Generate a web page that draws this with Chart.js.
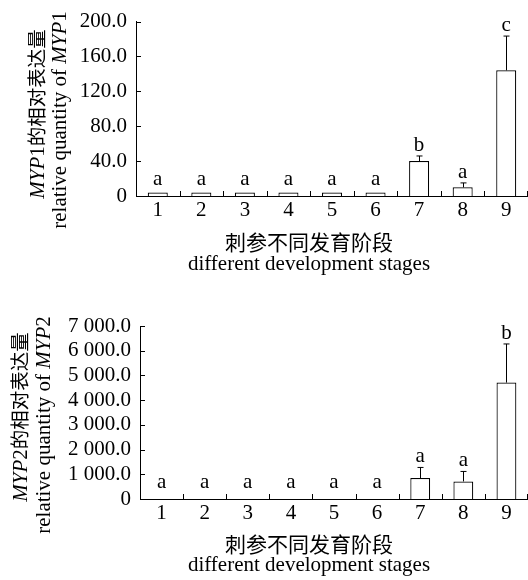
<!DOCTYPE html>
<html><head><meta charset="utf-8">
<script src="https://cdn.jsdelivr.net/npm/chart.js@4.4.1/dist/chart.umd.min.js"></script>
<style>
html,body{margin:0;padding:0;background:#fff;}
#wrap{position:relative;width:528px;height:580px;}
canvas{position:absolute;left:0;}
</style></head><body>
<div id="wrap">
<canvas id="c1" width="528" height="290" style="top:0"></canvas>
<canvas id="c2" width="528" height="290" style="top:290px"></canvas>
</div>
<script>
const stages = ["1","2","3","4","5","6","7","8","9"];
const myp1Values = [4.0, 4.0, 4.0, 4.0, 4.0, 4.0, 40.0, 9.9, 144.1];
const myp1Errors = [0.5, 0.5, 0.5, 0.5, 0.5, 0.5, 5.9, 5.1, 39.3];
const myp1Letters = ["a","a","a","a","a","a","b","a","c"];
const myp1TickLabels = ["0","40.0","80.0","120.0","160.0","200.0"];
const myp2Values = [5, 5, 5, 5, 5, 5, 848, 711, 4710];
const myp2Errors = [5, 5, 5, 5, 5, 5, 429, 404, 1563];
const myp2Letters = ["a","a","a","a","a","a","a","a","b"];
const myp2TickLabels = ["0","1 000.0","2 000.0","3 000.0","4 000.0","5 000.0","6 000.0","7 000.0"];
const xTitleZh = "刺参不同发育阶段";
const xTitleEn = "different development stages";
const yTitleZh = "的相对表达量";
const yTitleEn = "relative quantity of ";

const F_R = "21px 'Liberation Serif'";
const F_I = "italic 21px 'Liberation Serif'";
const F_C = "19.5px 'Noto Sans CJK SC'";
const F_CX = "21px 'Noto Sans CJK SC'";

function drawRotLine(ctx, segs, cx, cy) {
  let w = 0;
  segs.forEach(s => { ctx.font = s.f; s.w = ctx.measureText(s.t).width; w += s.w; });
  ctx.save();
  ctx.translate(cx, cy);
  ctx.rotate(-Math.PI / 2);
  ctx.textAlign = 'left';
  ctx.textBaseline = 'alphabetic';
  ctx.fillStyle = '#000';
  let x = -w / 2;
  segs.forEach(s => { ctx.font = s.f; ctx.fillText(s.t, x, 6); x += s.w; });
  ctx.restore();
}

const annotPlugin = {
  id: 'annot',
  afterDatasetsDraw(chart, args, opts) {
    const ctx = chart.ctx, xs = chart.scales.x, ys = chart.scales.y, ca = chart.chartArea;
    const meta = chart.getDatasetMeta(0);
    ctx.save();
    ctx.strokeStyle = '#000';
    ctx.lineWidth = 1;
    const n = stages.length;
    for (let i = 0; i < n; i++) {
      const x = i < n - 1 ? Math.round((xs.getPixelForValue(i) + xs.getPixelForValue(i + 1)) / 2) + 0.5 : ca.right - 0.5;
      ctx.beginPath(); ctx.moveTo(x, ca.bottom); ctx.lineTo(x, ca.bottom - 5); ctx.stroke();
    }
    ys.ticks.forEach(t => {
      const y = Math.round(ys.getPixelForValue(t.value)) + 0.5;
      ctx.beginPath(); ctx.moveTo(ca.left, y); ctx.lineTo(ca.left + 5, y); ctx.stroke();
    });
    meta.data.forEach((el, i) => {
      const v = opts.values[i], e = opts.errors[i];
      const yTop = ys.getPixelForValue(v + e);
      const x = Math.round(el.x) + 0.5;
      if (el.y - yTop > 1.5) {
        ctx.beginPath();
        ctx.moveTo(x, el.y); ctx.lineTo(x, yTop);
        ctx.moveTo(x - 3, yTop); ctx.lineTo(x + 3, yTop);
        ctx.stroke();
      }
      ctx.font = F_R; ctx.fillStyle = '#000'; ctx.textAlign = 'center'; ctx.textBaseline = 'alphabetic';
      const base = Math.min(yTop - 5, ca.bottom - 11);
      ctx.fillText(opts.letters[i], el.x, base);
    });
    // y title
    const g = opts.gene;
    drawRotLine(ctx, [{t: g.slice(0, 3), f: F_I}, {t: g.slice(3), f: F_R}, {t: yTitleZh, f: F_C}], opts.yT[0], opts.yT[1]);
    drawRotLine(ctx, [{t: yTitleEn, f: F_R}, {t: g.slice(0, 3), f: F_I}, {t: g.slice(3), f: F_R}], opts.yT[2], opts.yT[3]);
    // x title
    ctx.textAlign = 'center';
    ctx.fillStyle = '#000';
    ctx.font = F_CX; ctx.textBaseline = 'middle';
    ctx.fillText(xTitleZh, 309, opts.xT[0]);
    ctx.font = F_R; ctx.textBaseline = 'alphabetic';
    ctx.fillText(xTitleEn, 309, opts.xT[1]);
    ctx.restore();
  }
};

function makeChart(id, values, errors, letters, tickLabels, max, step, yWidth, xHeight, topPad, gene, yT, xT) {
  new Chart(document.getElementById(id), {
    type: 'bar',
    data: {labels: stages, datasets: [{data: values, backgroundColor: '#fff', borderColor: '#000', borderWidth: 1.2, barPercentage: 0.46, categoryPercentage: 1}]},
    options: {
      responsive: false, animation: false, devicePixelRatio: 1,
      layout: {padding: {top: topPad, left: 0, right: 0, bottom: 0}},
      plugins: {legend: {display: false}, tooltip: {enabled: false},
        annot: {values, errors, letters, gene, yT, xT}},
      scales: {
        x: {grid: {display: false, drawTicks: false}, border: {display: true, color: '#000', width: 1},
            ticks: {color: '#000', font: {family: "'Liberation Serif'", size: 21}, padding: 2, maxRotation: 0, autoSkip: false},
            afterFit(s) { s.height = xHeight; }},
        y: {min: 0, max: max, grid: {display: false, drawTicks: false}, border: {display: true, color: '#000', width: 1},
            ticks: {stepSize: step, autoSkip: false, color: '#000', font: {family: "'Liberation Serif'", size: 21}, padding: 9,
                    callback: (v, i) => tickLabels[i]},
            afterFit(s) { s.width = yWidth; }}
      }
    },
    plugins: [annotPlugin]
  });
}

makeChart('c1', myp1Values, myp1Errors, myp1Letters, myp1TickLabels, 200, 40, 136, 94, 15, "MYP1", [38, 114, 60, 120], [242, 269.5]);
makeChart('c2', myp2Values, myp2Errors, myp2Letters, myp2TickLabels, 7000, 1000, 140, 81, 36, "MYP2", [21, 127, 44, 135], [254, 281]);
</script>
</body></html>
